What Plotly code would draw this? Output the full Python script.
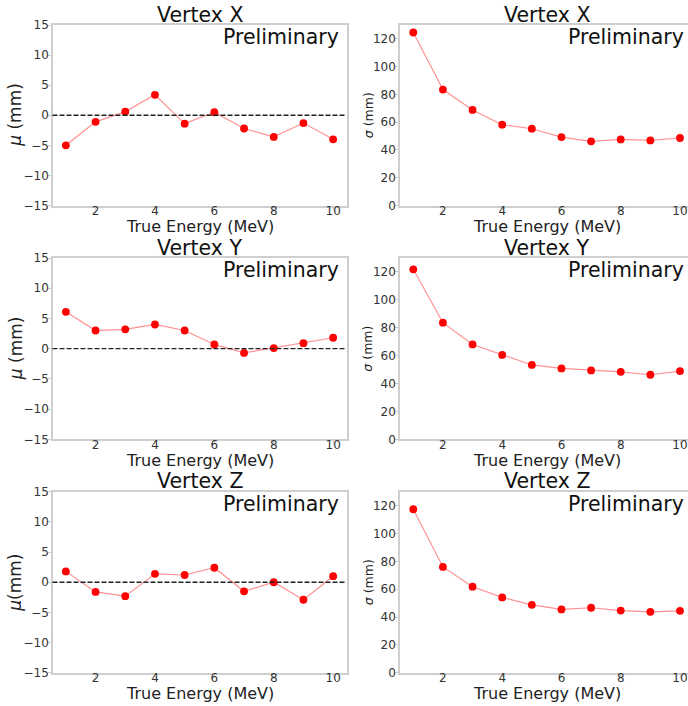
import plotly.graph_objects as go

energy = [1, 2, 3, 4, 5, 6, 7, 8, 9, 10]

mu_x = [-5.0, -1.1, 0.6, 3.4, -1.4, 0.5, -2.2, -3.6, -1.3, -4.0]
mu_y = [6.1, 3.0, 3.2, 4.0, 3.0, 0.7, -0.7, 0.1, 0.9, 1.8]
mu_z = [1.8, -1.6, -2.3, 1.4, 1.2, 2.4, -1.5, 0.0, -2.9, 1.0]

sigma_x = [124.6, 83.5, 68.8, 58.2, 55.3, 49.3, 46.2, 47.6, 46.9, 48.6]
sigma_y = [121.9, 83.6, 68.0, 60.5, 53.3, 50.8, 49.4, 48.4, 46.3, 48.9]
sigma_z = [117.4, 76.0, 61.8, 54.1, 48.8, 45.5, 46.7, 44.7, 43.8, 44.5]

titles = ["Vertex X", "Vertex Y", "Vertex Z"]
mu_labels = ["<i>μ</i> (mm)", "<i>μ</i> (mm)", "<i>μ</i>(mm)"]
sigma_label = "<i>σ</i> (mm)"
x_label = "True Energy (MeV)"
watermark = "Preliminary"
x_ticks = [2, 4, 6, 8, 10]
mu_ticks = [-15, -10, -5, 0, 5, 10, 15]
sigma_ticks = [0, 20, 40, 60, 80, 100, 120]
ref_level = 0

W, H = 688, 706
FONT = "DejaVu Sans"

left_dom = [52.5 / W, 346.5 / W]
right_dom = [399.5 / W, 1.0]
rows_px = [(25, 205.5), (258, 439.3), (491.7, 672.8)]
row_doms = [[1 - b / H, 1 - t / H] for t, b in rows_px]
xtitle_cx = [199.5, 546.5]
ytitle_cx = [15.5, 368.0]

mus = [mu_x, mu_y, mu_z]
sigmas = [sigma_x, sigma_y, sigma_z]

fig = go.Figure()
layout = dict(
    template="none",
    width=W, height=H, margin=dict(l=0, r=0, t=0, b=0, pad=0),
    paper_bgcolor="white", plot_bgcolor="white", showlegend=False,
    font=dict(family=FONT, color="#262626"),
)
annotations = []
shapes = []

line_col = "rgba(255,110,110,0.75)"
frame_col = "#cfcfcf"
tick_font = dict(size=12, color="#333333", family=FONT)

for r in range(3):
    top_px, bot_px = rows_px[r]
    for c in range(2):
        idx = r * 2 + c + 1
        xa = "x" if idx == 1 else f"x{idx}"
        ya = "y" if idx == 1 else f"y{idx}"
        xkey = "xaxis" if idx == 1 else f"xaxis{idx}"
        ykey = "yaxis" if idx == 1 else f"yaxis{idx}"
        yvals = mus[r] if c == 0 else sigmas[r]
        fig.add_trace(go.Scatter(
            x=energy, y=yvals, xaxis=xa, yaxis=ya, mode="lines+markers",
            line=dict(color=line_col, width=1.2),
            marker=dict(color="#ff0000", size=7.8, line=dict(width=0)),
            hoverinfo="skip",
        ))
        dom = left_dom if c == 0 else right_dom
        xr = [0.55, 10.45] if c == 0 else [0.535, 10.27]
        layout[xkey] = dict(
            domain=dom, anchor=ya, range=xr, tickmode="array", tickvals=x_ticks,
            showgrid=False, zeroline=False, showline=True, linecolor=frame_col,
            linewidth=1.5, mirror=True, ticks="outside", ticklen=2.5, tickwidth=1,
            tickcolor=frame_col, tickfont=tick_font, automargin=False,
            ticklabelstandoff=-9,
        )
        yr = [-15, 15] if c == 0 else [0, 130]
        yt = mu_ticks if c == 0 else sigma_ticks
        layout[ykey] = dict(
            domain=row_doms[r], anchor=xa, range=yr, tickmode="array", tickvals=yt,
            showgrid=False, zeroline=False, showline=True, linecolor=frame_col,
            linewidth=1.5, mirror=(c == 0), ticks="outside", ticklen=2.5, tickwidth=1,
            tickcolor=frame_col, tickfont=tick_font, automargin=False,
            ticklabelstandoff=-3,
        )
        if c == 0:
            shapes.append(dict(
                type="line", xref=f"{xa} domain", yref=ya, x0=0, x1=1,
                y0=ref_level, y1=ref_level,
                line=dict(color="#222222", width=1.3, dash="5px,2px"), layer="above",
            ))
        annotations.append(dict(
            text=titles[r], xref="paper", yref="paper",
            x=xtitle_cx[c] / W, y=1 - top_px / H, xanchor="center", yanchor="bottom",
            yshift=-3.5, showarrow=False,
            font=dict(size=20.5, color="#111111", family=FONT),
        ))
        annotations.append(dict(
            text=watermark, xref=xa, yref="paper",
            x=10.26 if c == 0 else 10.21, y=1 - top_px / H, xanchor="right", yanchor="top",
            yshift=2, showarrow=False,
            font=dict(size=20.5, color="#111111", family=FONT),
        ))
        annotations.append(dict(
            text=x_label, xref="paper", yref="paper",
            x=xtitle_cx[c] / W, y=1 - (bot_px + 21) / H, xanchor="center", yanchor="middle",
            showarrow=False, font=dict(size=16, color="#222222", family=FONT),
        ))
        annotations.append(dict(
            text=mu_labels[r] if c == 0 else sigma_label, xref="paper", yref="paper",
            x=ytitle_cx[c] / W, y=1 - (top_px + bot_px) / 2 / H, xanchor="center",
            yanchor="middle", textangle=-90, showarrow=False,
            font=dict(size=17 if c == 0 else 12.5, color="#222222", family=FONT),
        ))

layout["annotations"] = annotations
layout["shapes"] = shapes
fig.update_layout(**layout)
fig.write_html("out.html", config={"displayModeBar": False},
               post_script="document.body.style.margin='0px';")
